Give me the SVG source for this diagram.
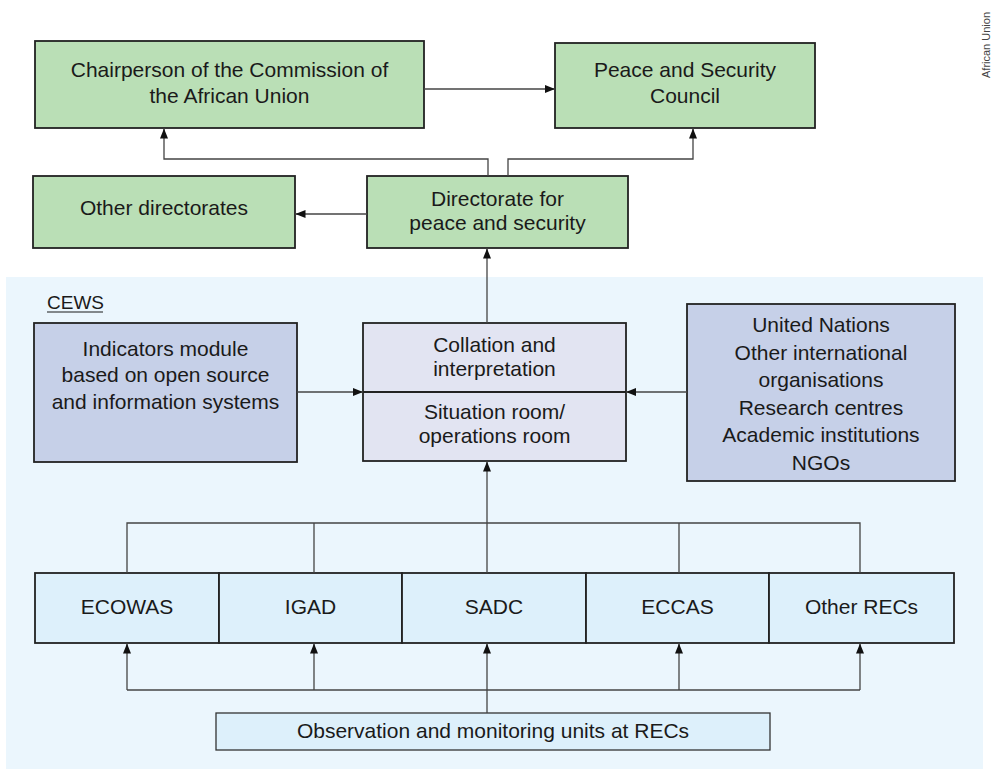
<svg xmlns="http://www.w3.org/2000/svg" width="1000" height="769" viewBox="0 0 1000 769">
<defs>
<marker id="arr" markerUnits="userSpaceOnUse" markerWidth="10" markerHeight="10" viewBox="0 0 10 10" refX="10" refY="5" orient="auto">
<path d="M0,1 L10,5 L0,9 Z" fill="#111"/>
</marker>
<style>
.box{stroke:#222;stroke-width:1.8}
.g{fill:#badfb6}
.b{fill:#c6d0e8}
.c{fill:#e2e4f2}
.r{fill:#ddf0fb}
text{font-family:"Liberation Sans",Arial,sans-serif;font-size:21px;fill:#1a1a1a;text-anchor:middle}
.con{fill:none;stroke:#444;stroke-width:1.3}
</style>
</defs>
<rect x="0" y="0" width="1000" height="769" fill="#ffffff"/>
<rect id="cews-bg" x="6" y="277" width="977" height="492" fill="#ebf6fd"/>
<text x="990" y="78" transform="rotate(-90 990 78)" style="font-size:11px;text-anchor:start;fill:#444">African Union</text>

<g id="chairperson"><rect class="box g" x="35" y="41" width="389" height="87"/>
<text x="229.5" y="77">Chairperson of the Commission of</text><text x="229.5" y="103">the African Union</text></g>
<g id="psc"><rect class="box g" x="555" y="43" width="260" height="85"/>
<text x="685" y="77">Peace and Security</text><text x="685" y="103">Council</text></g>
<g id="other-directorates"><rect class="box g" x="33" y="176" width="262" height="72"/>
<text x="164" y="215">Other directorates</text></g>
<g id="directorate"><rect class="box g" x="367" y="176" width="261" height="72"/>
<text x="497.5" y="206">Directorate for</text><text x="497.5" y="230">peace and security</text></g>

<g id="cews-label"><text x="47" y="309" style="text-anchor:start;font-size:19px">CEWS</text>
<line x1="47" y1="312" x2="103" y2="312" stroke="#1a1a1a" stroke-width="1.2"/></g>

<g id="indicators"><rect class="box b" x="34" y="323" width="263" height="139"/>
<text x="165.5" y="356">Indicators module</text><text x="165.5" y="382">based on open source</text><text x="165.5" y="409">and information systems</text></g>
<g id="collation"><rect class="box c" x="363" y="323" width="263" height="138"/>
<line x1="363" y1="392" x2="626" y2="392" stroke="#222" stroke-width="1.8"/>
<text x="494.5" y="352">Collation and</text><text x="494.5" y="376">interpretation</text>
<text x="494.5" y="419">Situation room/</text><text x="494.5" y="443">operations room</text></g>
<g id="external"><rect class="box b" x="687" y="304" width="268" height="177"/>
<text x="821" y="332">United Nations</text><text x="821" y="359.5">Other international</text><text x="821" y="387">organisations</text><text x="821" y="414.5">Research centres</text><text x="821" y="442">Academic institutions</text><text x="821" y="469.5">NGOs</text></g>

<g id="ecowas"><rect class="box r" x="35" y="573" width="184" height="70"/><text x="127" y="614">ECOWAS</text></g>
<g id="igad"><rect class="box r" x="219" y="573" width="183" height="70"/><text x="310.5" y="614">IGAD</text></g>
<g id="sadc"><rect class="box r" x="402" y="573" width="184" height="70"/><text x="494" y="614">SADC</text></g>
<g id="eccas"><rect class="box r" x="586" y="573" width="183" height="70"/><text x="677.5" y="614">ECCAS</text></g>
<g id="other-recs"><rect class="box r" x="769" y="573" width="185" height="70"/><text x="861.5" y="614">Other RECs</text></g>
<g id="observation"><rect class="r" x="216" y="713" width="554" height="37" stroke="#333" stroke-width="1.3"/>
<text x="493" y="738">Observation and monitoring units at RECs</text></g>

<g id="connectors">
<path class="con" d="M424,89 H555" marker-end="url(#arr)"/>
<path class="con" d="M488,176 V159 H164 V128.5" marker-end="url(#arr)"/>
<path class="con" d="M508,176 V159 H693 V128.5" marker-end="url(#arr)"/>
<path class="con" d="M367,214 H295.5" marker-end="url(#arr)"/>
<path class="con" d="M487,323 V248.5" marker-end="url(#arr)"/>
<path class="con" d="M297,392 H363" marker-end="url(#arr)"/>
<path class="con" d="M687,392 H626" marker-end="url(#arr)"/>
<path class="con" d="M127,573 V523 H860 V573"/>
<path class="con" d="M314,523 V573"/>
<path class="con" d="M679,523 V573"/>
<path class="con" d="M487,573 V461.5" marker-end="url(#arr)"/>
<path class="con" d="M127,690 H860"/>
<path class="con" d="M127,690 V643.5" marker-end="url(#arr)"/>
<path class="con" d="M314,690 V643.5" marker-end="url(#arr)"/>
<path class="con" d="M487,713 V643.5" marker-end="url(#arr)"/>
<path class="con" d="M679,690 V643.5" marker-end="url(#arr)"/>
<path class="con" d="M860,690 V643.5" marker-end="url(#arr)"/>
</g>
</svg>
